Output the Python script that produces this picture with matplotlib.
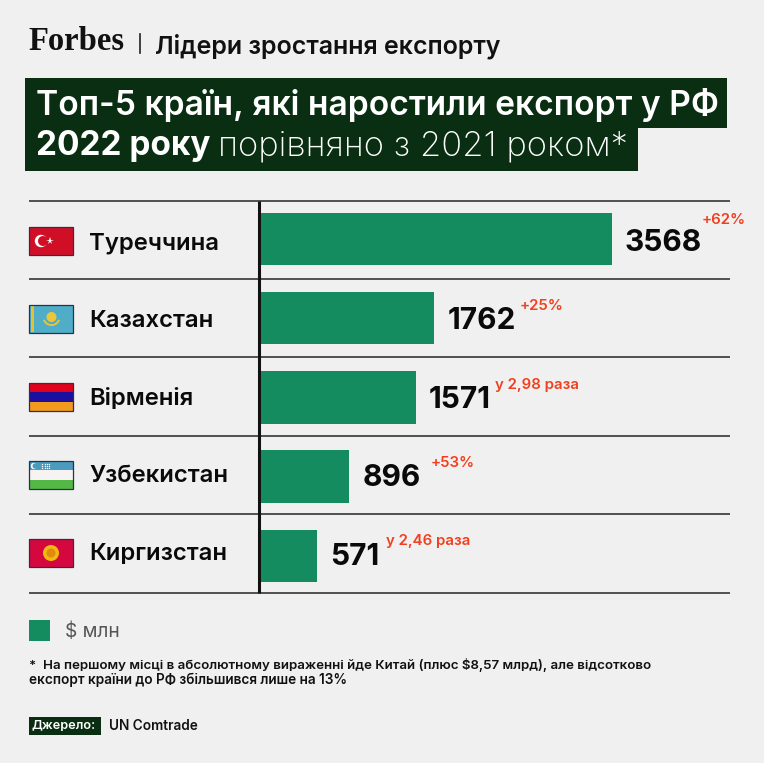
import matplotlib
matplotlib.use("Agg")
import matplotlib.pyplot as plt
from matplotlib.patches import Rectangle, Circle, Wedge

plt.rcParams['font.family'] = ['Inter', 'DejaVu Sans']

countries = ["Туреччина", "Казахстан", "Вірменія", "Узбекистан", "Киргизстан"]
export_mln = [3568, 1762, 1571, 896, 571]
growth = ["+62%", "+25%", "у 2,98 раза", "+53%", "у 2,46 раза"]

BG = "#f0f0f0"
GREEN = "#148c5f"
DARK = "#0a2e12"
RED = "#f0401f"
W, H = 764, 763

fig = plt.figure(figsize=(7.64, 7.63), dpi=100, facecolor=BG)

# overlay in pixel coords for all the furniture
bg = fig.add_axes([0, 0, 1, 1])
bg.set_xlim(0, W)
bg.set_ylim(H, 0)
bg.axis("off")

# bars
left, right, top, bottom = 261, 730, 201, 593
ax = fig.add_axes([left / W, 1 - bottom / H, (right - left) / W, (bottom - top) / H])
ax.patch.set_alpha(0)
scale = (612 - 261) / 3568
ax.set_xlim(0, (right - left) / scale)
ax.set_ylim(4.47, -0.48)
ax.axis("off")
ax.barh(range(len(export_mln)), export_mln, height=0.66, color=GREEN)

px = 72 / 100
value_dy = [-4, -3, -3, -1, -1]
change_dx = [90, 85, 79, 81, 69]
change_dy = [19, 12, 12, 14, 15]
for i, v in enumerate(export_mln):
    ax.annotate(str(v), (v, i), xytext=(13 * px, value_dy[i] * px), textcoords="offset points",
                fontsize=21.5, fontweight="bold", color="#0a0a0a", va="center", ha="left")
    ax.annotate(growth[i], (v, i), xytext=(change_dx[i] * px, change_dy[i] * px),
                textcoords="offset points", fontsize=10.8, fontweight="semibold",
                color=RED, va="center", ha="left")

# row rules
for y in [201, 279, 357, 436, 514, 593]:
    bg.plot([29, 730], [y, y], color="#444444", lw=1.3, solid_capstyle="butt")
bg.plot([259, 259], [201, 593], color="#111111", lw=2.2, solid_capstyle="butt")

# country names
name_y = [243, 321, 399, 476, 554]
for name, y in zip(countries, name_y):
    bg.text(89.5, y, name, fontsize=17.2, fontweight="semibold", color="#0a0a0a", va="center", ha="left")


def flag_box(y):
    return 29, y - 14, 44, 28


def stripes(y, cols):
    x0, y0, w, h = flag_box(y)
    sh = h / len(cols)
    for k, c in enumerate(cols):
        bg.add_patch(Rectangle((x0, y0 + k * sh), w, sh, fc=c, ec="none"))


def outline(y):
    x0, y0, w, h = flag_box(y)
    bg.add_patch(Rectangle((x0, y0), w, h, fc="none", ec="#2a3050", lw=0.9))


# Turkey
stripes(241, ["#d00f27"])
bg.add_patch(Circle((41, 241), 6.2, fc="white", ec="none"))
bg.add_patch(Circle((43, 241), 5, fc="#d00f27", ec="none"))
bg.plot([50], [241], marker="*", ms=5.5, color="white", mew=0)
outline(241)

# Kazakhstan
stripes(319, ["#4fadc8"])
bg.add_patch(Rectangle((30.5, 306), 3, 26, fc="#e2c22e", ec="none"))
bg.add_patch(Circle((51.5, 317), 5, fc="#ecc63a", ec="none"))
bg.add_patch(Wedge((51.5, 317), 9, 20, 160, width=1.8, fc="#ecc63a", ec="none"))
outline(319)

# Armenia
stripes(397, ["#e3001b", "#1b0fa0", "#f29a1e"])
outline(397)

# Uzbekistan
stripes(475, ["#4a9bbd", "#f7f3f3", "#53b845"])
bg.add_patch(Rectangle((29, 470.5), 44, 0.8, fc="#c8323c", ec="none"))
bg.add_patch(Rectangle((29, 479.5), 44, 0.8, fc="#c8323c", ec="none"))
bg.add_patch(Circle((34, 466), 3.2, fc="white", ec="none"))
bg.add_patch(Circle((35.3, 466), 2.8, fc="#4a9bbd", ec="none"))
for sx in [42, 44.5, 47, 49]:
    bg.plot([sx, sx, sx], [464, 466, 468], ls="none", marker="o", ms=1, color="white", mew=0)
outline(475)

# Kyrgyzstan
stripes(553, ["#d5073f"])
bg.add_patch(Circle((51, 553), 8, fc="#f2b90f", ec="none"))
bg.add_patch(Circle((51, 553), 4.5, fc="#e08a10", ec="none"))
outline(553)

# header
bg.text(28, 42, "Forbes", family="Liberation Serif", fontweight="bold", fontsize=23.5,
        color="#111111", va="center", ha="left")
bg.plot([140, 140], [34, 53], color="#222222", lw=1.2)
bg.text(155, 46, "Лідери зростання експорту", fontsize=18, fontweight="semibold",
        color="#111111", va="center", ha="left")

# title blocks
bg.add_patch(Rectangle((25, 78), 702, 50, fc=DARK, ec="none"))
bg.add_patch(Rectangle((25, 125), 613, 46, fc=DARK, ec="none"))
bg.text(36, 105, "Топ-5 країн, які наростили експорт у РФ", fontsize=24.2, fontweight="semibold",
        color="white", va="center", ha="left")
bg.text(36, 146, "2022 року", fontsize=24, fontweight="bold", color="white", va="center", ha="left")
bg.text(218, 146, "порівняно з 2021 роком*", fontsize=24.9, fontweight="light",
        color="white", va="center", ha="left")

# legend
bg.add_patch(Rectangle((29, 620), 21, 21, fc=GREEN, ec="none"))
bg.text(65, 632, "$ млн", fontsize=13.8, color="#555555", va="center", ha="left")

# footnote
bg.text(29, 665, "*  На першому місці в абсолютному вираженні йде Китай (плюс $8,57 млрд), але відсотково",
        fontsize=9.6, fontweight="semibold", color="#111111", va="center", ha="left")
bg.text(29, 680, "експорт країни до РФ збільшився лише на 13%",
        fontsize=9.8, fontweight="semibold", color="#111111", va="center", ha="left")

# source
bg.add_patch(Rectangle((29, 717), 72, 18, fc=DARK, ec="none"))
bg.text(32, 726, "Джерело:", fontsize=9.2, fontweight="semibold", color="white", va="center", ha="left")
bg.text(109, 726, "UN Comtrade", fontsize=9.8, fontweight="semibold", color="#111111", va="center", ha="left")

fig.savefig("out.png", dpi=100, facecolor=BG)
